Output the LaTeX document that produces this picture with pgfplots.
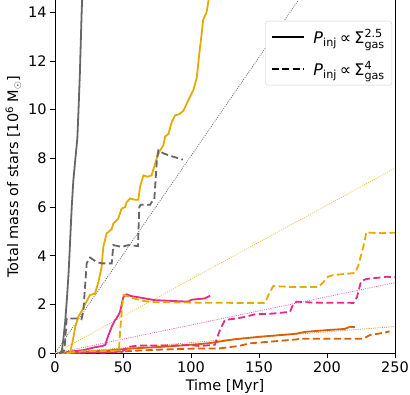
\documentclass[border=0pt]{standalone}
\usepackage{amsmath}
\usepackage{fontspec}
\setmainfont{DejaVu Sans}
\usepackage{pgfplots}
\pgfplotsset{compat=1.18}
\definecolor{cgray}{HTML}{666666}
\definecolor{cyel}{HTML}{E6AB02}
\definecolor{cpink}{HTML}{E7298A}
\definecolor{corg}{HTML}{D95F02}
\begin{document}
\begin{tikzpicture}
\useasboundingbox (-55bp,-41.7bp) rectangle (355bp,353.3bp);
\begin{axis}[
  width=340bp, height=353.3bp, scale only axis,
  xmin=0, xmax=250, ymin=0, ymax=14.5,
  xtick={0,50,100,150,200,250}, ytick={0,2,4,6,8,10,12,14},
  axis x line=bottom, axis y line=box, ytick pos=left,
  axis line style={-, line width=0.8bp},
  tick align=outside, major tick length=5bp,
  tick style={line width=0.8bp, black},
  font=\fontsize{14.5bp}{17bp}\selectfont,
  /pgf/number format/assume math mode=true,
  xlabel={Time [Myr]},
  ylabel={Total mass of stars {[}10\textsuperscript{6} M$_\odot${]}},
  legend style={at={(axis cs:250,14.5)}, anchor=north east, xshift=-3bp, yshift=-21bp,
    draw=black!20, rounded corners=2.5bp, fill=white, row sep=12bp,
    inner xsep=5bp, inner ysep=6bp,
    /tikz/every odd column/.append style={column sep=7bp},
    font=\fontsize{16bp}{19bp}\selectfont},
  legend cell align=left,
  legend image code/.code={\draw[#1, line width=2bp] (0bp,0bp) -- (32bp,0bp);},
  every axis plot/.append style={line width=1.8bp},
  dsh/.style={dash pattern=on 7bp off 3.5bp},
  dtt/.style={line width=0.7bp, dash pattern=on 1bp off 1.2bp},
]
\addlegendimage{black}
\addlegendentry{\textit{P}$_{\text{inj}}$\hspace{3bp}∝\hspace{3bp}Σ$^{\text{2.5}}_{\text{gas}}$}
\addlegendimage{black, dash pattern=on 7bp off 3.5bp}
\addlegendentry{\textit{P}$_{\text{inj}}$\hspace{3bp}∝\hspace{3bp}Σ$^{\text{4}}_{\text{gas}}$}

% dotted reference lines
\addplot[forget plot, cgray, dtt] coordinates {(0,0) (179,14.5)};
\addplot[forget plot, cyel!80, dtt] coordinates {(0,0) (250,7.6)};
\addplot[forget plot, cpink!80, dtt] coordinates {(0,0) (250,2.9)};
\addplot[forget plot, corg!80, dtt] coordinates {(0,0) (250,1.1)};

% orange
\addplot[forget plot, corg, dsh] coordinates {(5,0) (20,0.03) (48,0.07) (57,0.1) (76.5,0.15) (106.6,0.2) (121,0.2) (135,0.3) (143.4,0.41) (148,0.43) (177.7,0.57) (180,0.6) (226.7,0.6) (231.6,0.75) (242.6,0.85) (246,0.9)};
\addplot[forget plot, corg] coordinates {(5,0) (20,0.05) (40,0.12) (50,0.17) (57,0.2) (80,0.27) (106.6,0.38) (114,0.42) (131,0.57) (150.7,0.68) (155,0.7) (177,0.8) (184,0.88) (202,0.96) (213,1.0) (217,1.09) (220.6,1.07)};

% pink
\addplot[forget plot, cpink, dsh] coordinates {(2,0) (20,0.02) (40,0.03) (49,0.05) (52,0.2) (55,0.27) (61.4,0.32) (80,0.32) (100,0.33) (106.6,0.3) (117.6,0.35) (119,0.6) (121.3,0.96) (125,1.37) (133.6,1.43) (140,1.5) (147,1.6) (160,1.63) (172.8,1.7) (175,2.0) (177.7,2.12) (190,2.08) (219.4,2.07) (222,2.3) (225,2.95) (226.7,3.0) (229,3.05) (243.9,3.14) (250,3.12)};
\addplot[forget plot, cpink] coordinates {(5,0) (11,0.07) (20.8,0.13) (29.4,0.25) (35,0.3) (37,0.35) (39,0.7) (41.7,1.09) (44,1.35) (45.3,1.43) (47.8,1.7) (49,2.0) (50.2,2.3) (52.7,2.42) (56,2.35) (61.4,2.3) (73.6,2.18) (85.9,2.15) (98,2.12) (100.4,2.2) (110,2.25) (114,2.36)};

% yellow
\addplot[forget plot, cyel, dsh] coordinates {(2,0) (10,0.03) (20,0.08) (30,0.1) (40,0.1) (47,0.12) (48,1.0) (49.5,2.0) (50.5,2.4) (53,2.35) (58,2.25) (65,2.15) (72,2.1) (100,2.08) (130,2.07) (154.4,2.07) (157,2.4) (160.5,2.76) (175,2.72) (193.6,2.72) (197,2.9) (201,3.15) (204.6,3.21) (212,3.25) (220.6,3.3) (223,3.6) (226.7,4.37) (229,4.98) (231.6,4.95) (240,4.93) (250,4.95)};
\addplot[forget plot, cyel] coordinates {(8,0) (11,0.02) (13,0.5) (15,1.1) (17.1,1.5) (20.8,1.84) (22,2.0) (25.7,2.39) (29.4,2.45) (31.9,2.93) (34.3,3.55) (35.5,4.37) (38,4.92) (41.7,5.1) (42.9,5.33) (46.5,5.53) (49,5.94) (51.5,6.0) (52.7,6.2) (55.1,6.35) (59,6.3) (61.3,6.3) (62.5,6.83) (65,7.3) (68,7.25) (71,7.3) (74.8,8.0) (77,8.3) (79.7,8.54) (81,8.9) (83.4,9.0) (85.9,9.5) (88.4,9.77) (91,9.8) (94.4,9.95) (96.8,10.24) (99,10.5) (101.7,10.8) (104.2,11.3) (106.1,12.3) (107.8,13.1) (109,13.7) (111.5,14.0) (113.5,14.7)};

% gray
\addplot[forget plot, cgray, dsh] coordinates {(3,0) (6,0.05) (7,0.15) (8.6,1.43) (12,1.43) (18,1.43) (19.5,1.4) (20.8,1.7) (23.3,3.7) (25.7,3.93) (30.6,3.75) (34.3,3.69) (41.7,3.69) (42.9,4.44) (49,4.37) (53.9,4.44) (61,4.4) (62,6.0) (63,6.1) (70,6.1) (71,6.2) (73,6.3) (75,8.0) (76,8.33) (80,8.2) (85,8.1) (94,7.95)};
\addplot[forget plot, cgray] coordinates {(3.5,0) (5,0.1) (6,0.5) (7.5,1.3) (8.6,2.1) (10,3.3) (12.3,6) (13.5,7.1) (15,8) (16.4,8.8) (17.3,10) (18.3,11.5) (19.6,14) (20,14.6)};
\end{axis}
\end{tikzpicture}
\end{document}
